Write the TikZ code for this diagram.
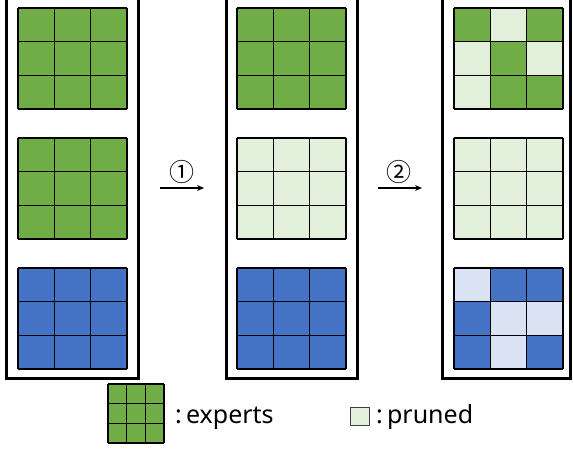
\documentclass[tikz,border=0pt]{standalone}
\usepackage{fontspec}
\setmainfont{Noto Sans}
\newfontfamily\symfont{Noto Sans CJK KR}
\usetikzlibrary{arrows.meta}
\definecolor{G}{RGB}{112,173,71}
\definecolor{LG}{RGB}{226,239,218}
\definecolor{B}{RGB}{68,114,196}
\definecolor{LB}{RGB}{218,227,243}
\newcommand\mycellgrid[5]{% x0, y0, cell w, cell h, colours
  \foreach \c [count=\i from 0] in {#5} {
    \pgfmathtruncatemacro\rr{int(\i/3)}
    \pgfmathtruncatemacro\kk{mod(\i,3)}
    \fill[\c] ({#1+\kk*#3},{#2+\rr*#4}) rectangle ++(#3,#4);
  }
  \foreach \j in {0,1,2,3} {
    \draw[gridline] ({#1},{#2+\j*#4}) -- ++({3*#3},0);
    \draw[gridline] ({#1+\j*#3},{#2}) -- ++(0,{3*#4});
  }
}
\tikzset{
  gridline/.style={line width=1.3pt, black},
  panel/.style={line width=3pt, black},
  flow/.style={line width=1.2pt, -{Stealth[length=7pt,width=6pt]}},
  lbl/.style={inner sep=0pt, font=\fontsize{25}{28}\selectfont},
  num/.style={inner sep=0pt, font=\symfont\fontsize{25}{28}\selectfont}
}
\begin{document}
\begin{tikzpicture}[x=1pt,y=-1pt]
\useasboundingbox (0,0) rectangle (573,448);
\def\cw{36.33}
\def\ch{33.67}
% panels
\draw[panel] (6,-3) rectangle (138,378);
\draw[panel] (226,-3) rectangle (357,378);
\draw[panel] (442,-3) rectangle (570,378);
% panel 1
\mycellgrid{18}{8}{\cw}{\ch}{G,G,G,G,G,G,G,G,G}
\mycellgrid{18}{138}{\cw}{\ch}{G,G,G,G,G,G,G,G,G}
\mycellgrid{18}{268}{\cw}{\ch}{B,B,B,B,B,B,B,B,B}
% panel 2
\mycellgrid{237}{8}{\cw}{\ch}{G,G,G,G,G,G,G,G,G}
\mycellgrid{237}{138}{\cw}{\ch}{LG,LG,LG,LG,LG,LG,LG,LG,LG}
\mycellgrid{237}{268}{\cw}{\ch}{B,B,B,B,B,B,B,B,B}
% panel 3
\mycellgrid{454}{8}{\cw}{\ch}{G,LG,G,LG,G,LG,LG,G,G}
\mycellgrid{454}{138}{\cw}{\ch}{LG,LG,LG,LG,LG,LG,LG,LG,LG}
\mycellgrid{454}{268}{\cw}{\ch}{LB,B,B,B,LB,LB,B,LB,B}
% arrows
\coordinate (a1s) at (160,188);
\coordinate (a1e) at (204,188);
\coordinate (a2s) at (378,188);
\coordinate (a2e) at (422,188);
\draw[flow] (a1s) -- (a1e);
\draw[flow] (a2s) -- (a2e);
\node[num] (n1) at (182,172) {①};
\node[num] (n2) at (399,172) {②};
% legend
\mycellgrid{108}{384}{18.67}{19.67}{G,G,G,G,G,G,G,G,G}
\node[lbl, anchor=base west] (lex) at (175,423) {:\,experts};
\draw[line width=1pt, black!75, fill=LG] (350,407) rectangle (369,425);
\node[lbl, anchor=base west] (lpr) at (376,423) {:\,pruned};
\end{tikzpicture}
\end{document}
